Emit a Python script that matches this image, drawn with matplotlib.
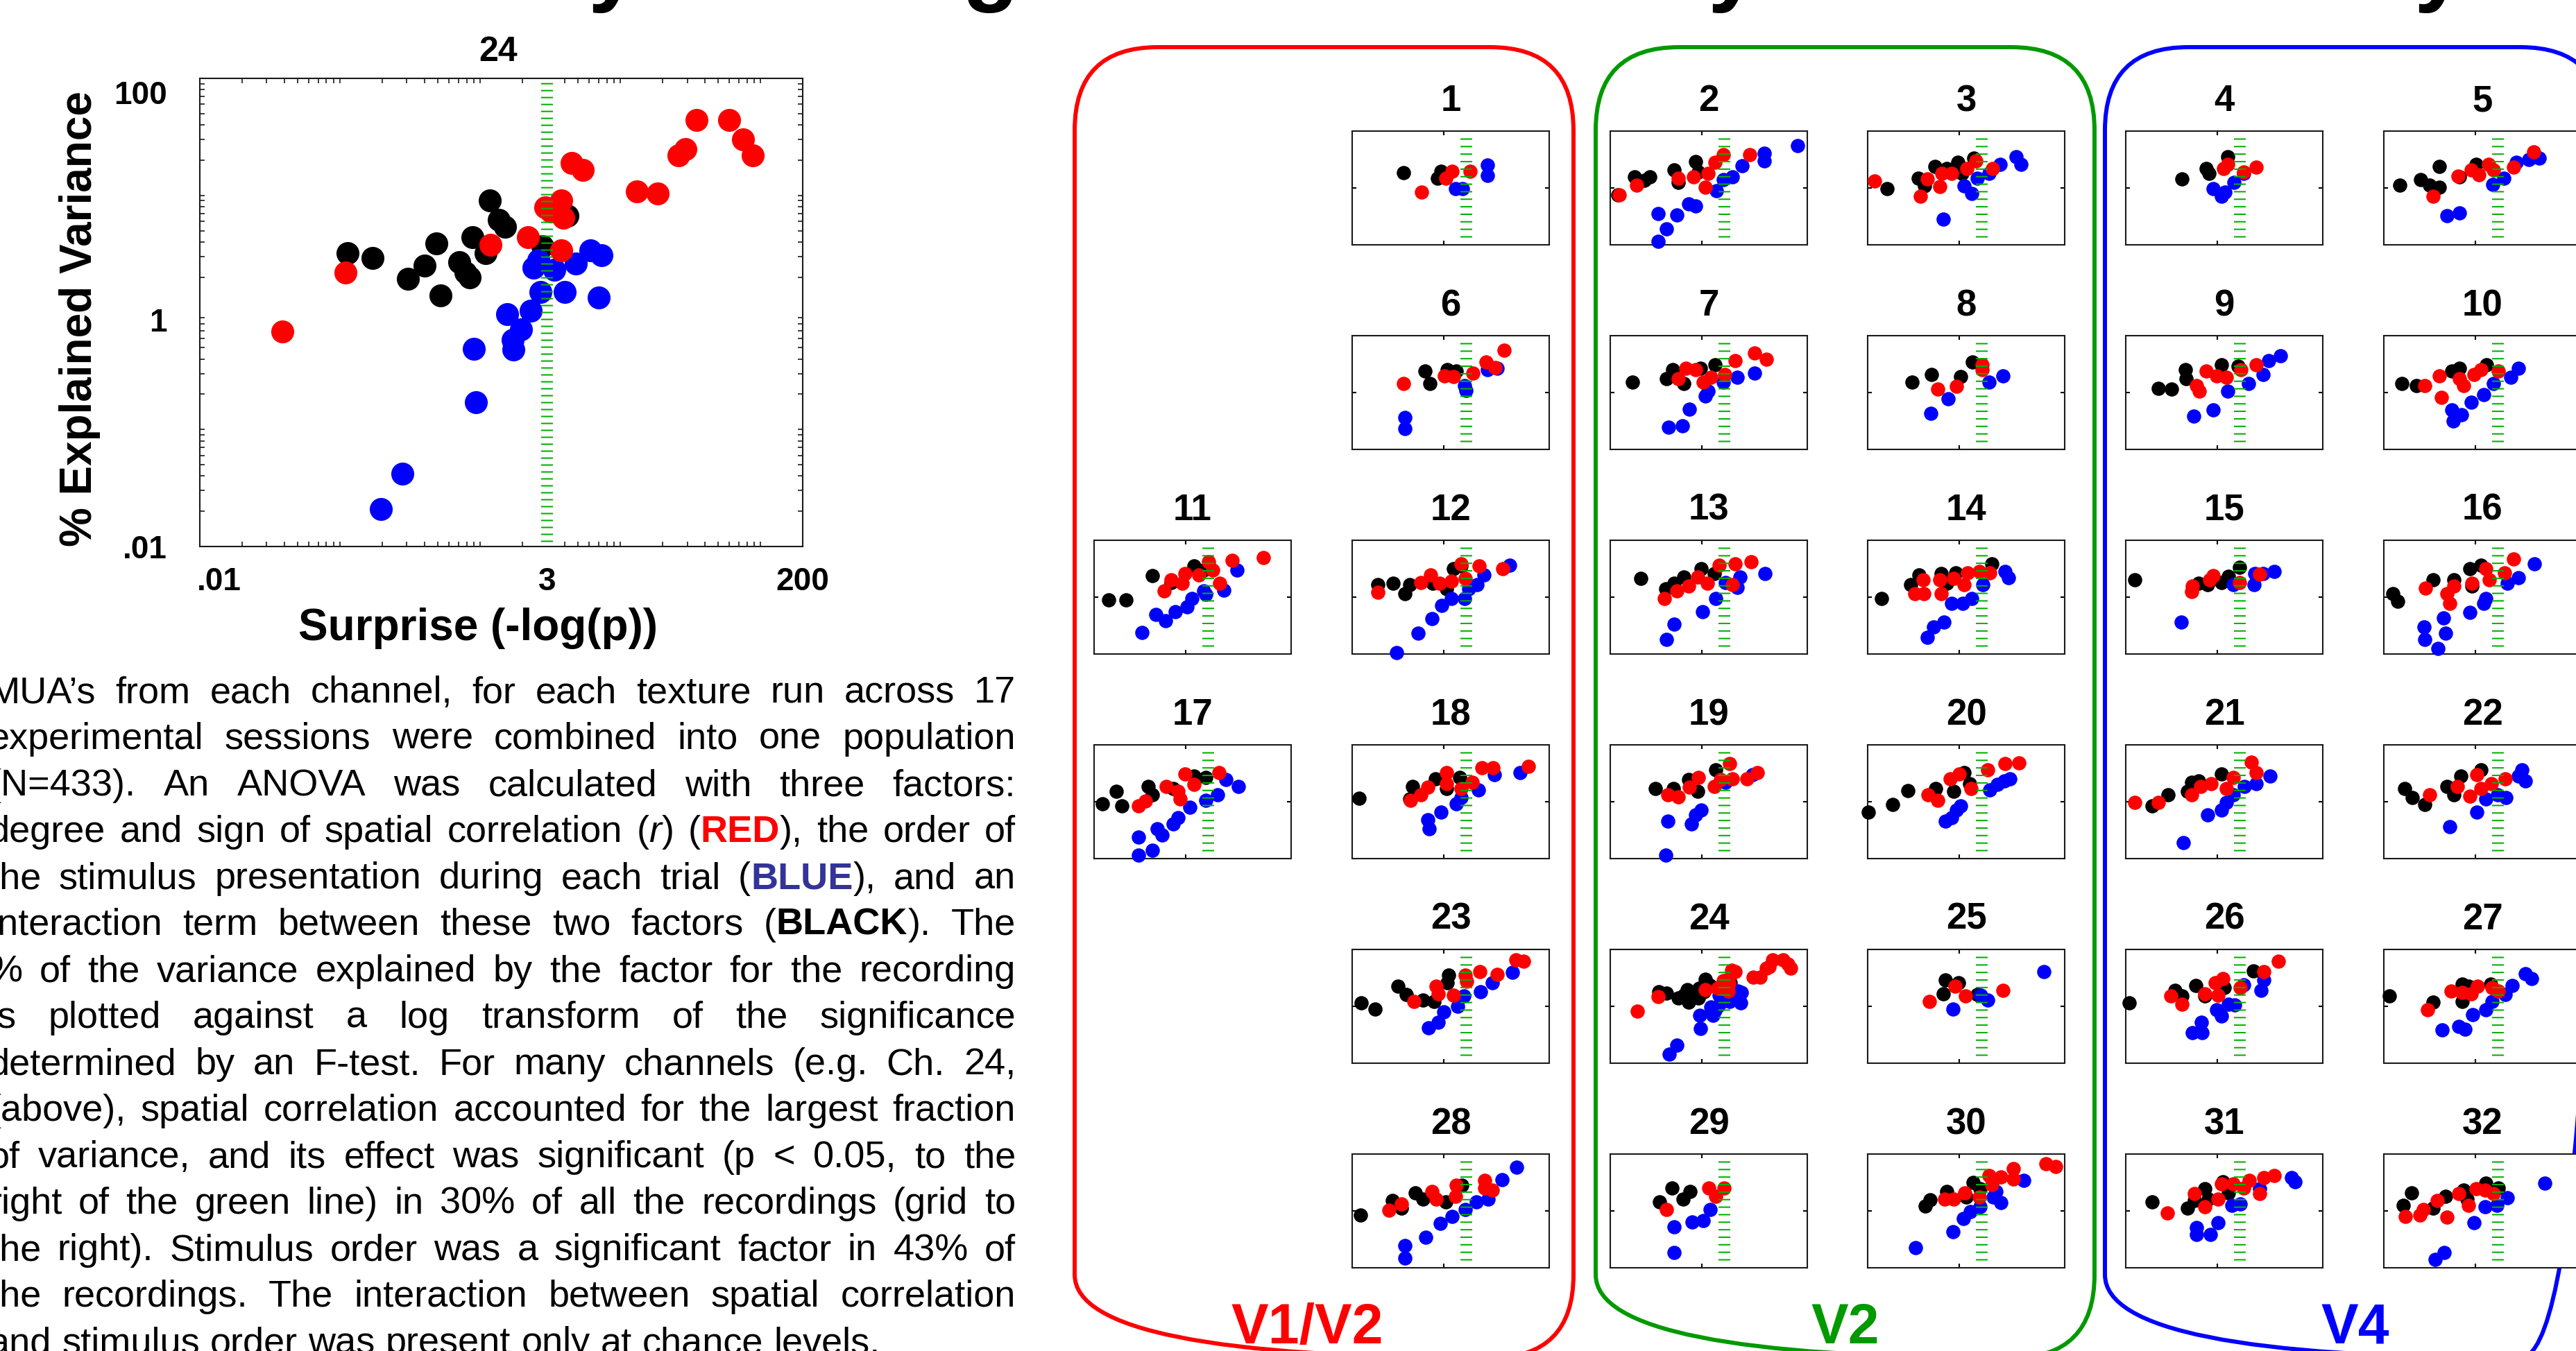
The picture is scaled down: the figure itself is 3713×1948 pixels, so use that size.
import re

import matplotlib
matplotlib.use("Agg")
import matplotlib.pyplot as plt
from matplotlib.patches import FancyBboxPatch
from matplotlib.ticker import LogLocator, NullFormatter, FixedLocator, NullLocator
from matplotlib.transforms import ScaledTranslation

plt.rcParams["font.family"] = ["Liberation Sans", "DejaVu Sans"]

W, H, DPI = 3713, 1948, 100

RED, BLUE, BLACK = "#ff0000", "#0000ff", "#000000"
GREEN = "#00b000"
SIG = 3.0  # p = 0.05 on the surprise axis

# ---- channel 24, shown large: (surprise, % explained variance) ----
CH24_RED_X = [0.039, 0.11, 1.18, 2.2, 2.9, 3.8, 3.9, 3.8, 4.5, 5.4, 13.1, 18.5, 26, 29, 35, 60, 75, 88, 3.2]
CH24_RED_Y = [0.69, 2.2, 3.8, 4.4, 7.9, 9.1, 6.4, 3.4, 18.8, 16.6, 10.8, 10.4, 22, 25, 44, 44, 30, 22, 7.3]
CH24_BLACK_X = [0.113, 0.17, 0.305, 0.4, 0.485, 0.52, 0.71, 0.79, 0.84, 0.88, 1.09, 1.17, 1.36, 1.5, 2.8, 4.2]
CH24_BLACK_Y = [3.2, 2.9, 1.94, 2.5, 3.9, 1.39, 2.7, 2.2, 2.0, 4.4, 3.2, 9.1, 6.2, 5.4, 3.7, 6.7]
CH24_BLUE_X = [0.195, 0.28, 0.9, 0.93, 1.55, 1.7, 1.72, 1.96, 2.3, 2.4, 2.6, 2.7, 3.4, 4.0, 4.8, 6.1, 7.3, 7.0]
CH24_BLUE_Y = [0.021, 0.042, 0.49, 0.17, 0.96, 0.58, 0.48, 0.72, 1.04, 2.4, 2.8, 1.5, 2.3, 1.5, 2.6, 3.4, 3.1, 1.34]

# ---- all channels: spatial correlation (red) ----
SPATIAL = {
    1: ([0.33, 1.5, 1.1, 3.7], [0.70, 3.8, 2.25, 3.9]),
    2: ([0.016, 0.038, 0.31, 0.65, 1.2, 1.36, 1.96, 2.9, 11], [0.56, 1.25, 2.2, 2.5, 1.05, 3.25, 7.8, 14.6, 14.6]),
    3: ([0.014, 0.14, 0.2, 0.37, 0.42, 0.69, 1.46, 2.3, 5.3], [1.8, 0.5, 2.1, 1.1, 3.25, 3.25, 4.7, 8.8, 4.7]),
    4: ([1.37, 1.7, 3.7, 7.1], [4.7, 6.9, 3.7, 5.3]),
    5: ([0.12, 0.42, 0.82, 1.18, 1.96, 2.5, 6.8, 18.4], [0.5, 2.6, 4.2, 2.9, 6.9, 4.2, 5.3, 18.7]),
    6: ([0.13, 1.04, 1.6, 4.3, 8.4, 13, 21], [2.05, 3.8, 3.6, 4.7, 11.8, 7.7, 30]),
    7: ([0.31, 0.45, 0.74, 1.06, 1.55, 3.2, 5.3, 14, 26], [3.0, 7.2, 6.3, 2.3, 3.4, 4.3, 13.4, 25, 15]),
    8: ([0.34, 0.88, 3.1, 3.2], [1.3, 1.67, 9.2, 6.3]),
    9: ([0.35, 0.4, 0.58, 0.95, 1.56, 3.3, 7.0], [1.8, 1.1, 5.6, 3.8, 3.4, 6.3, 9.2]),
    10: ([0.077, 0.16, 0.18, 0.44, 0.56, 0.92, 1.34, 3.2], [1.8, 3.8, 0.66, 3.0, 1.8, 4.3, 6.3, 5.6]),
    11: ([0.34, 0.48, 0.85, 0.96, 1.94, 3.1, 3.9, 5.5, 10.4, 49], [1.64, 4.1, 3.0, 6.7, 6.1, 18, 9, 3.0, 20, 25]),
    12: ([0.036, 0.32, 0.51, 0.81, 1.47, 2.35, 2.9, 5.9, 19.3], [1.49, 3.3, 6.1, 3.0, 3.7, 14.9, 4.5, 12.2, 10]),
    13: ([0.15, 0.28, 0.51, 0.81, 1.3, 2.35, 4.7, 5.3, 12], [0.9, 1.64, 2.5, 5.0, 3.0, 13.6, 2.7, 14.9, 18]),
    14: ([0.106, 0.16, 0.167, 0.4, 0.37, 0.75, 1.28, 1.5, 2.7, 4.7], [1.33, 4.0, 1.33, 1.33, 4.0, 4.5, 2.7, 7.3, 8.1, 7.3]),
    15: ([0.27, 0.28, 0.67, 0.81, 3.0, 8.4], [1.6, 2.4, 4.0, 5.6, 3.3, 6.3]),
    16: ([0.08, 0.24, 0.27, 0.34, 0.85, 1.7, 2.0, 4.3, 6.8], [2.1, 1.33, 0.59, 2.4, 3.0, 10, 4.0, 7.3, 22]),
    17: ([0.093, 0.13, 0.37, 0.68, 0.75, 0.96, 1.53, 5.3], [0.7, 1.05, 3.5, 2.35, 1.28, 9.7, 4.0, 10.8]),
    18: ([0.19, 0.32, 0.45, 1.16, 1.16, 2.35, 4.2, 6.7, 12, 70], [1.15, 1.74, 3.2, 10.8, 4.3, 2.9, 4.8, 16, 16, 18]),
    19: ([0.18, 0.3, 0.54, 0.85, 1.85, 2.6, 4.0, 4.7, 9.5, 16], [1.76, 1.49, 3.3, 7.2, 3.5, 6, 22, 6.5, 6.5, 10.8]),
    20: ([0.21, 0.34, 0.64, 1.0, 1.8, 4.2, 9.8, 20], [1.76, 1.15, 6.5, 9.7, 2.9, 13.2, 22, 23]),
    21: ([0.016, 0.052, 0.27, 0.43, 0.74, 1.55, 2.2, 5.5, 7.0], [0.95, 0.95, 1.76, 3.5, 4.3, 2.9, 7.2, 24, 10.8]),
    22: ([0.1, 0.41, 0.76, 1.07, 1.34, 2.25, 4.5], [1.74, 3.5, 1.6, 8.8, 2.9, 4.3, 6.5]),
    23: ([0.22, 0.69, 0.75, 1.6, 2.9, 3.1, 6.1, 14.7, 37, 55], [1.5, 5.1, 2.75, 2.5, 12.6, 7.6, 17, 13.2, 42, 38]),
    24: (CH24_RED_X, CH24_RED_Y),
    25: ([0.22, 0.81, 1.36, 8.9], [1.5, 5.1, 2.3, 3.7]),
    26: ([0.095, 0.167, 0.54, 0.9, 1.05, 1.3, 3.2, 10.3, 21.6], [2.3, 1.2, 2.75, 6.9, 2.5, 9.3, 4.6, 17, 38]),
    27: ([0.089, 0.29, 0.51, 0.82, 1.1, 2.3, 3.1], [0.74, 3.4, 3.1, 2.75, 5.1, 4.6, 3.4]),
    28: ([0.063, 0.117, 0.55, 0.69, 1.8, 1.9, 7.8, 7.8, 11.5], [1.05, 1.74, 4.8, 2.6, 3.2, 7.9, 12, 6.5, 5.5]),
    29: ([0.17, 1.41, 2.0, 3.0], [1.15, 6.5, 3.2, 6.3]),
    30: ([0.48, 0.76, 1.3, 2.7, 5.1, 4.5, 8.2, 15, 15, 77, 125], [2.6, 2.6, 4.3, 3.0, 8.3, 17.6, 16, 31, 13.3, 45, 37]),
    31: ([0.082, 0.32, 0.54, 1.05, 1.22, 2.2, 3.7, 5.0, 8.4, 10.3, 17.5], [0.83, 4.0, 1.4, 2.6, 8.8, 8.8, 6.5, 12, 4.0, 14.6, 18]),
    32: ([0.029, 0.062, 0.072, 0.145, 0.24, 0.43, 0.71, 1.02, 1.6, 2.5], [0.64, 0.7, 1.15, 2.35, 0.6, 4.0, 1.6, 6, 5.3, 4.0]),
}

# ---- stimulus order (blue) ----
ORDER = {
    1: ([1.8, 2.6, 9.1, 9.1], [0.92, 0.97, 6.3, 2.7]),
    2: ([0.11, 0.17, 0.11, 0.28, 0.51, 0.74, 2.1, 2.9, 4.6, 7.6, 23, 23, 122], [0.125, 0.036, 0.013, 0.11, 0.27, 0.23, 0.82, 1.96, 2.5, 6.1, 16.4, 8.8, 31]),
    3: ([0.44, 1.28, 1.87, 2.5, 4.5, 7.9, 17.5, 22], [0.08, 1.19, 0.64, 2.2, 3.25, 6.9, 12.8, 6.9]),
    4: ([0.8, 1.22, 1.46, 2.3, 3.7], [0.93, 0.5, 0.7, 1.53, 3.25]),
    5: ([0.235, 0.44, 2.4, 4.1, 7.7, 14.4, 25], [0.105, 0.13, 1.34, 2.2, 7.8, 10, 11.4]),
    6: ([0.14, 0.14, 2.8, 3.0, 9, 14.8], [0.13, 0.054, 1.8, 1.18, 6.3, 7.2]),
    7: ([0.19, 0.38, 0.54, 1.2, 1.36, 2.9, 5.9, 14], [0.061, 0.069, 0.26, 0.75, 1.1, 2.3, 3.4, 4.9]),
    8: ([0.24, 0.58, 4.5, 8.9], [0.19, 0.61, 2.3, 3.8]),
    9: ([0.31, 0.8, 1.7, 4.8, 10, 13, 24], [0.15, 0.24, 1.1, 2.05, 4.3, 13.4, 19.6]),
    10: ([0.3, 0.33, 0.5, 0.82, 1.53, 2.5, 6.0, 8.7], [0.24, 0.1, 0.17, 0.45, 0.85, 2.05, 3.4, 7.2]),
    11: ([0.11, 0.22, 0.36, 0.6, 1.08, 1.36, 2.75, 2.5, 6.7, 13.2], [0.056, 0.25, 0.15, 0.3, 0.45, 0.9, 1.22, 1.64, 1.8, 9]),
    12: ([0.093, 0.27, 0.55, 0.91, 1.47, 2.8, 3.5, 5.3, 7.5, 27], [0.011, 0.055, 0.18, 0.5, 0.9, 0.9, 2.0, 2.7, 6.1, 13.6]),
    13: ([0.17, 0.25, 1.03, 2.0, 3.3, 5.9, 6.7, 24], [0.033, 0.11, 0.3, 0.9, 3.3, 2.2, 5.0, 6.7]),
    14: ([0.2, 0.27, 0.47, 0.67, 1.2, 1.9, 3.3, 10, 12], [0.039, 0.088, 0.13, 0.59, 0.59, 0.89, 2.7, 8.1, 4.9]),
    15: ([0.165, 2.2, 6.3, 6.5, 9.9, 17.7], [0.13, 2.7, 2.7, 6.6, 6.6, 8.1]),
    16: ([0.075, 0.078, 0.15, 0.2, 0.22, 0.76, 1.52, 1.7, 4.9, 8.6, 19.3], [0.088, 0.032, 0.016, 0.185, 0.053, 0.29, 0.59, 0.89, 3.0, 4.9, 14.9]),
    17: ([0.093, 0.093, 0.19, 0.235, 0.3, 0.54, 0.68, 1.22, 2.75, 4.9, 7.5, 14.2], [0.0135, 0.056, 0.02, 0.115, 0.068, 0.17, 0.28, 0.64, 1.15, 1.76, 6, 3.5]),
    18: ([0.48, 0.45, 0.88, 1.85, 2.35, 5.7, 12.9, 47], [0.115, 0.23, 0.42, 0.86, 1.4, 2.6, 8.8, 10.8]),
    19: ([0.16, 0.18, 0.6, 0.73, 0.98, 3.3, 12.9], [0.0135, 0.21, 0.17, 0.35, 0.52, 4.8, 8.8]),
    20: ([0.5, 0.67, 0.88, 1.06, 4.7, 6.7, 9.5, 12.9], [0.21, 0.28, 0.52, 0.7, 2.6, 4.0, 5.3, 6.5]),
    21: ([0.18, 0.62, 1.23, 1.55, 2.2, 3.9, 7.0, 14], [0.037, 0.35, 0.52, 0.95, 1.74, 3.5, 4.3, 7.9]),
    22: ([0.27, 1.07, 1.7, 3.0, 4.6, 8.6, 10.3, 12.2], [0.13, 0.42, 1.28, 1.76, 1.4, 7.9, 13.2, 5.3]),
    23: ([0.47, 0.75, 1.0, 2.0, 2.7, 6.4, 11.5, 32], [0.18, 0.27, 0.63, 1.0, 2.3, 3.2, 6.9, 15.3]),
    24: (CH24_BLUE_X, CH24_BLUE_Y),
    25: ([0.73, 2.9, 4.2, 70], [0.82, 2.5, 1.64, 17]),
    26: ([0.28, 0.47, 0.45, 0.98, 1.22, 1.75, 2.4, 3.8, 9, 10.3], [0.12, 0.12, 0.28, 0.74, 0.45, 1.2, 1.1, 5.6, 3.7, 8.4]),
    27: ([0.19, 0.43, 0.6, 0.88, 1.7, 2.3, 4.5, 6.3, 12.5, 17], [0.15, 0.2, 0.16, 0.51, 0.74, 1.5, 2.6, 5.4, 14, 9.3]),
    28: ([0.14, 0.14, 0.41, 0.83, 1.52, 2.9, 5.1, 9.2, 18.4, 39], [0.022, 0.06, 0.12, 0.37, 0.64, 1.15, 2.1, 2.6, 12.4, 34]),
    29: ([0.25, 0.25, 0.62, 1.07, 1.5], [0.28, 0.034, 0.4, 0.45, 1.15]),
    30: ([0.11, 0.72, 1.23, 1.75, 2.8, 5.6, 8.2, 6.4, 26], [0.05, 0.19, 0.53, 0.95, 1.37, 3.0, 2.0, 4.7, 12]),
    31: ([0.35, 0.35, 0.71, 1.05, 2.05, 3.2, 8.4, 42, 49], [0.26, 0.15, 0.15, 0.38, 1.6, 1.74, 6, 14.6, 10.8]),
    32: ([0.13, 0.21, 0.92, 1.6, 2.9, 4.9, 33], [0.02, 0.034, 0.38, 1.4, 1.6, 2.9, 9.7]),
}

# ---- interaction term (black) ----
INTERACTION = {
    1: ([0.13, 0.88, 0.74], [3.4, 3.9, 2.2]),
    2: ([0.0145, 0.034, 0.056, 0.072, 0.245, 0.31, 0.74, 0.84], [0.56, 2.5, 1.9, 2.5, 4.2, 1.53, 8.6, 3.6]),
    3: ([0.027, 0.126, 0.175, 0.29, 0.54, 0.92, 1.13, 2.1], [0.93, 2.2, 1.19, 5.6, 4.7, 7.8, 3.25, 11.4]),
    4: ([0.167, 0.58, 0.65, 1.7], [2.1, 4.7, 3.25, 12.8]),
    5: ([0.022, 0.064, 0.099, 0.16, 0.16, 0.44, 1.05], [1.25, 1.96, 1.25, 5.6, 1.05, 2.5, 6.9]),
    6: ([0.39, 0.5, 1.2, 1.9], [5.6, 2.05, 6.3, 5.6]),
    7: ([0.03, 0.17, 0.23, 0.4, 0.94, 1.96], [2.3, 3.0, 6.3, 2.05, 7.2, 9.2]),
    8: ([0.094, 0.25, 1.07, 1.96], [2.3, 4.3, 3.6, 11.8]),
    9: ([0.052, 0.1, 0.2, 0.21, 1.22, 2.8], [1.4, 1.3, 6.3, 3.0, 9.2, 8.5]),
    10: ([0.025, 0.052, 0.3, 0.44, 1.72], [2.05, 1.8, 5.6, 7.2, 9.2]),
    11: ([0.021, 0.049, 0.19, 0.48, 1.53, 2.5], [0.82, 0.82, 5.7, 3.3, 12.2, 9]),
    12: ([0.036, 0.079, 0.14, 0.18, 0.57, 1.16, 1.64, 2.35], [2.7, 3.0, 1.36, 2.7, 3.0, 2.0, 10, 12.2]),
    13: ([0.047, 0.16, 0.25, 0.41, 0.98, 1.85], [4.5, 2.0, 3.0, 5.0, 10, 6.7]),
    14: ([0.02, 0.087, 0.13, 0.4, 0.53, 0.85, 5.1], [0.89, 2.7, 6, 6.6, 3.0, 7.3, 14.9]),
    15: ([0.016, 0.39, 0.62, 1.23, 1.74, 3.0], [4.0, 3.1, 2.7, 3.3, 5.4, 11]),
    16: ([0.016, 0.02, 0.12, 0.34, 0.76, 0.85, 1.34], [1.33, 0.72, 4.0, 4.0, 10, 2.4, 13.4]),
    17: ([0.015, 0.031, 0.041, 0.15, 0.19, 0.54, 1.53, 2.75], [0.86, 2.35, 0.7, 3.5, 1.74, 2.9, 7.9, 7.2]),
    18: ([0.014, 0.18, 0.21, 0.65, 1.16, 2.2], [1.34, 1.28, 3.5, 6.5, 2.9, 7.2]),
    19: ([0.095, 0.24, 0.51, 0.81, 2.0], [2.9, 2.9, 6, 2.35, 13.2]),
    20: ([0.0105, 0.035, 0.075, 0.3, 0.75, 1.28, 1.7], [0.44, 0.81, 2.5, 2.9, 2.35, 10.8, 4.3]),
    21: ([0.038, 0.085, 0.22, 0.27, 0.39, 1.23], [0.7, 1.74, 2.35, 4.8, 5.3, 9.7]),
    22: ([0.028, 0.042, 0.078, 0.24, 0.34, 0.48, 1.34], [2.9, 1.4, 0.81, 3.5, 1.76, 7.9, 13.2]),
    23: ([0.016, 0.032, 0.10, 0.15, 0.35, 0.62, 1.26, 1.2], [1.36, 0.82, 5.1, 2.6, 1.64, 1.5, 12.6, 6.9]),
    24: (CH24_BLACK_X, CH24_BLACK_Y),
    25: ([0.5, 0.97, 0.45, 2.5], [8.4, 6.9, 2.75, 2.6]),
    26: ([0.012, 0.12, 0.167, 0.34, 0.54, 1.41, 6.1], [1.36, 3.7, 2.3, 5.4, 2.3, 4.6, 17.7]),
    27: ([0.013, 0.12, 0.52, 0.52, 0.71, 2.15], [2.3, 1.4, 6.2, 1.5, 5.1, 6.2]),
    28: ([0.015, 0.076, 0.117, 0.24, 0.35, 1.12, 2.5], [0.73, 2.35, 1.28, 4.3, 2.6, 2.1, 7.9]),
    29: ([0.12, 0.22, 0.39, 0.55], [2.1, 6.5, 2.6, 4.8]),
    30: ([0.18, 0.23, 0.54, 1.4, 2.0, 2.8], [1.5, 2.4, 4.7, 3.0, 10, 6]),
    31: ([0.037, 0.22, 0.32, 0.54, 0.63, 1.3, 1.75], [2.1, 1.28, 2.35, 6, 2.6, 10.8, 4.3]),
    32: ([0.027, 0.04, 0.12, 0.22, 0.56, 0.65, 1.66, 3.1], [1.6, 4.3, 1.28, 3.2, 5.3, 2.6, 9.7, 6.5]),
}

# grid position of each channel: (column, row)
GRID = {
    1: (1, 0), 2: (2, 0), 3: (3, 0), 4: (4, 0), 5: (5, 0),
    6: (1, 1), 7: (2, 1), 8: (3, 1), 9: (4, 1), 10: (5, 1),
    11: (0, 2), 12: (1, 2), 13: (2, 2), 14: (3, 2), 15: (4, 2), 16: (5, 2),
    17: (0, 3), 18: (1, 3), 19: (2, 3), 20: (3, 3), 21: (4, 3), 22: (5, 3),
    23: (1, 4), 24: (2, 4), 25: (3, 4), 26: (4, 4), 27: (5, 4),
    28: (1, 5), 29: (2, 5), 30: (3, 5), 31: (4, 5), 32: (5, 5),
}
COL_X = [1577, 1949, 2321, 2692, 3064, 3436]
ROW_Y = [189, 484, 779, 1074, 1369, 1664]
CELL_W, CELL_H = 284, 164

AREAS = [("V1/V2", RED, 1549, 2268, 1884), ("V2", "#009900", 2300, 3019, 2660),
         ("V4", BLUE, 3034, 3753, 3395)]

PARA_LINES = [
    "MUA’s from each channel, for each texture run across 17",
    "experimental sessions were combined into one population",
    "(N=433). An ANOVA was calculated with three factors:",
    "degree and sign of spatial correlation ([i|r]) ([r|RED]), the order of",
    "the stimulus presentation during each trial ([b|BLUE]), and an",
    "interaction term between these two factors ([k|BLACK]). The",
    "% of the variance explained by the factor for the recording",
    "is plotted against a log transform of the significance",
    "determined by an F-test. For many channels (e.g. Ch. 24,",
    "(above), spatial correlation accounted for the largest fraction",
    "of variance, and its effect was significant (p < 0.05, to the",
    "right of the green line) in 30% of all the recordings (grid to",
    "the right). Stimulus order was a significant factor in 43% of",
    "the recordings. The interaction between spatial correlation",
    "and stimulus order was present only at chance levels.",
]
STYLES = {"r": dict(color=RED, fontweight="bold"),
          "b": dict(color="#333399", fontweight="bold"),
          "k": dict(color=BLACK, fontweight="bold"),
          "i": dict(fontstyle="italic")}


def rect(x, y, w, h):
    return [x / W, 1 - (y + h) / H, w / W, h / H]


def draw_points(ax, ch, size):
    for table, color in ((INTERACTION, BLACK), (ORDER, BLUE), (SPATIAL, RED)):
        xs, ys = table[ch]
        ax.scatter(xs, ys, s=size, color=color, linewidths=1.0, edgecolors=color,
                   clip_on=False, zorder=3)


def setup_log(ax):
    ax.set_xscale("log")
    ax.set_yscale("log")
    ax.set_xlim(0.01, 200)
    ax.set_ylim(0.01, 100)
    for sp in ax.spines.values():
        sp.set_linewidth(1.5)
        sp.set_color("#1a1a1a")


fig = plt.figure(figsize=(W / DPI, H / DPI), dpi=DPI)

canvas = fig.add_axes([0, 0, 1, 1])
canvas.set_xlim(0, W)
canvas.set_ylim(H, 0)
canvas.axis("off")

# bottoms of the banner title that runs above the top edge
for x, ch in ((848, "y"), (1386, "g"), (2462, "y"), (3480, "y")):
    canvas.text(x, -9, ch, fontsize=96, fontweight="bold", ha="left", va="baseline")

# area boxes with their labels
for name, color, x0, x1, xl in AREAS:
    canvas.add_patch(FancyBboxPatch((x0, 68), x1 - x0, 1958 - 68,
                     boxstyle="round,pad=0,rounding_size=120",
                     fill=False, edgecolor=color, linewidth=4.3))
    canvas.text(xl, 1937, name, fontsize=58, fontweight="bold", color=color,
                ha="center", va="baseline")

# ---- large panel: channel 24 ----
ax = fig.add_axes(rect(288, 113, 869, 675))
setup_log(ax)
draw_points(ax, 24, 520)
ax.axvline(SIG, ymin=0.01, ymax=0.997, color=GREEN, lw=12.2,
           ls=(0, (0.12, 0.47)), dash_capstyle="butt", zorder=5)
ax.xaxis.set_major_locator(FixedLocator([0.01, 3, 200]))
ax.yaxis.set_major_locator(FixedLocator([0.01, 1, 100]))
ax.set_xticklabels([".01", "3", "200"])
ax.set_yticklabels([".01", "1", "100"])
ax.xaxis.set_minor_locator(LogLocator(base=10, subs=range(1, 10), numticks=20))
ax.yaxis.set_minor_locator(LogLocator(base=10, subs=range(1, 10), numticks=20))
ax.xaxis.set_minor_formatter(NullFormatter())
ax.yaxis.set_minor_formatter(NullFormatter())
ax.tick_params(which="both", direction="in", top=True, right=True, width=1.2,
               color="#1a1a1a")
ax.tick_params(which="major", length=0)
ax.tick_params(which="minor", length=5)
ax.tick_params(axis="x", which="major", pad=21, labelsize=33)
ax.tick_params(axis="y", which="major", pad=34, labelsize=33)
for lab in ax.get_xticklabels() + ax.get_yticklabels():
    lab.set_fontweight("bold")
xtl = ax.get_xticklabels()
xtl[0].set_ha("left")
xtl[0].set_transform(xtl[0].get_transform() + ScaledTranslation(-4 / DPI, 0, fig.dpi_scale_trans))
ytl = ax.get_yticklabels()
for lab, dy in zip(ytl, (0, -10, -20)):
    lab.set_transform(lab.get_transform() + ScaledTranslation(0, dy / DPI, fig.dpi_scale_trans))
ax.set_xlabel("Surprise (-log(p))", fontsize=46, fontweight="bold")
ax.set_ylabel("% Explained Variance", fontsize=46, fontweight="bold")
ax.xaxis.label.set_va("center")
ax.yaxis.label.set_va("center")
ax.xaxis.set_label_coords((689 - 288) / 869, -(906 - 788) / 675)
ax.yaxis.set_label_coords((115 - 288) / 869, (788 - 460) / 675)
ax.text((718 - 288) / 869, (788 - 88) / 675, "24", transform=ax.transAxes,
        fontsize=36, fontweight="bold", ha="center", va="baseline")

# ---- grid of all channels ----
for ch, (c, r) in GRID.items():
    a = fig.add_axes(rect(COL_X[c], ROW_Y[r], CELL_W, CELL_H))
    setup_log(a)
    draw_points(a, ch, 190)
    a.axvline(SIG, ymin=0.07, ymax=0.988, color=GREEN, lw=12.2,
              ls=(0, (0.12, 0.52)), dash_capstyle="butt", zorder=5)
    a.xaxis.set_major_locator(FixedLocator([1]))
    a.yaxis.set_major_locator(FixedLocator([1]))
    a.xaxis.set_minor_locator(NullLocator())
    a.yaxis.set_minor_locator(NullLocator())
    a.tick_params(direction="in", top=True, right=True, length=4, width=1.5,
                  labelbottom=False, labelleft=False)
    a.text(0.5, (CELL_H + 29) / CELL_H, str(ch), transform=a.transAxes, fontsize=38,
           fontweight="bold", ha="center", va="baseline")

# ---- justified caption ----
FS = 39
X0, X1 = -16, 1464
BASE0, LEAD = 1013, 67
renderer = fig.canvas.get_renderer()
space_w = 0.278 * FS * DPI / 72


def split_word(word):
    segs = []
    for piece in re.split(r"(\[\w\|[^\]]+\])", word):
        if not piece:
            continue
        m = re.fullmatch(r"\[(\w)\|([^\]]+)\]", piece)
        if m:
            segs.append((m.group(2), STYLES[m.group(1)]))
        else:
            segs.append((piece, {}))
    return segs


for i, line in enumerate(PARA_LINES):
    y = BASE0 + i * LEAD
    words = []
    for word in line.split(" "):
        arts = []
        for s, st in split_word(word):
            t = canvas.text(0, y, s, fontsize=FS, ha="left", va="baseline", **st)
            arts.append((t, t.get_window_extent(renderer).width))
        words.append(arts)
    widths = [sum(wd for _, wd in arts) for arts in words]
    last = i == len(PARA_LINES) - 1
    gap = space_w if last else (X1 - X0 - sum(widths)) / (len(words) - 1)
    x = X0
    for arts in words:
        for t, wd in arts:
            t.set_x(x)
            x += wd
        x += gap

fig.savefig("out.png", dpi=DPI)
